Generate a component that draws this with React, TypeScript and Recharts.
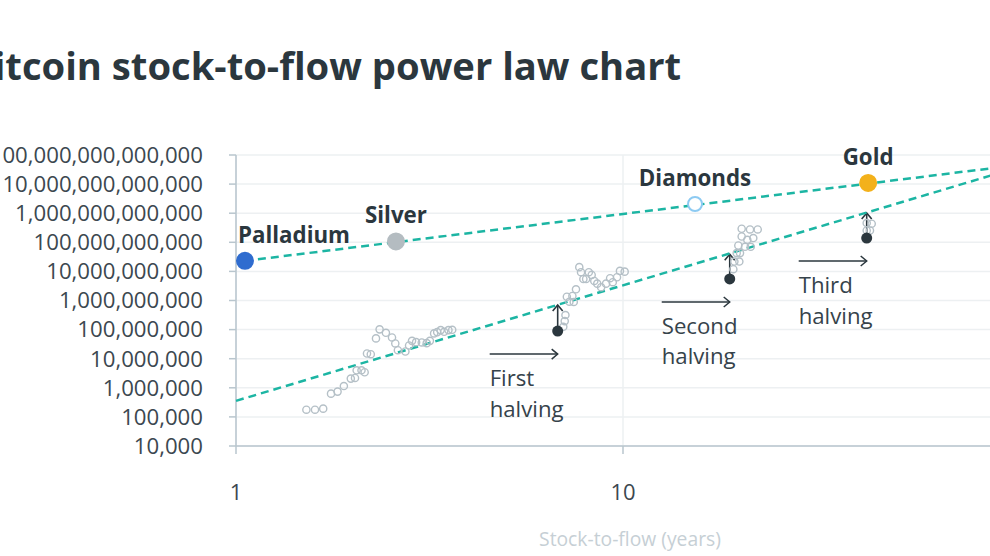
import { ScatterChart, Scatter, XAxis, YAxis, CartesianGrid, ReferenceLine } from 'recharts';

const FONT = "'Open Sans', sans-serif";

// commodities (stock-to-flow in years, market value in USD)
const commodityNames = ['Palladium', 'Silver', 'Diamonds', 'Gold'];
const commoditySF = [1.055, 2.59, 15.35, 43.0];
const commodityValue = [2.3e10, 1.07e11, 2.07e12, 1.1e13];

// fitted power law lines (end points)
const commodityFitSF = [1.055, 100];
const commodityFitValue = [2.3e10, 4.2e13];
const btcFitSF = [1, 100];
const btcFitValue = [3.56e5, 3.1e13];

// bitcoin monthly points
const btcSF = [
  1.52, 1.6, 1.68, 1.76, 1.83, 1.9, 1.98, 2.03, 2.05, 2.11, 2.15, 2.18, 2.23, 2.3, 2.35, 2.44,
  2.53, 2.58, 2.62, 2.74, 2.8, 2.85, 2.92, 3.02, 3.11, 3.17, 3.25, 3.31, 3.38, 3.45, 3.54, 3.62,
  7.01, 7.07, 7.1, 7.16, 7.27, 7.46, 7.4, 7.56, 7.71, 7.79, 7.9, 8.03, 8.16, 8.3, 8.43, 8.58,
  8.78, 9.04, 9.26, 9.41, 9.65, 9.82, 10.1,
  19.28, 19.4, 19.98, 19.67, 20.06, 19.86, 20.67, 21.38, 20.26, 20.95, 21.71, 20.26, 21.29, 22.29,
  42.63, 43.92, 42.63, 43.47,
];
const btcValue = [
  1.77e5, 1.77e5, 1.92e5, 6.3e5, 7.4e5, 1.15e6, 2.07e6, 2.18e6, 4.0e6, 4.0e6, 3.42e6, 1.51e7, 1.43e7, 4.98e7, 1.02e8, 7.76e7,
  5.38e7, 3.34e7, 1.96e7, 1.77e7, 2.85e7, 4.11e7, 3.71e7, 3.62e7, 3.42e7, 4.11e7, 7.4e7, 8.2e7, 9.62e7, 8.4e7, 9.62e7, 9.84e7,
  1.25e8, 1.96e8, 3.16e8, 1.35e9, 9.1e8, 8.9e8, 1.43e9, 2.43e9, 1.4e10, 9.4e9, 5.5e9, 5.5e9, 9.4e9, 7.57e9, 4.7e9, 3.79e9,
  2.85e9, 3.79e9, 5.83e9, 4.25e9, 6.3e9, 1.04e10, 9.8e9,
  1.19e10, 2.18e10, 2.18e10, 4.25e10, 4.25e10, 7.76e10, 7.0e10, 7.0e10, 1.58e11, 1.22e11, 1.4e11, 2.92e11, 2.76e11, 2.76e11,
  4.59e11, 4.35e11, 2.55e11, 2.55e11,
];

// halvings: value at halving and value on the fitted line
const halvingNames = ['First', 'Second', 'Third'];
const halvingSF = [6.78, 18.87, 42.63];
const halvingValue = [8.9e7, 5.5e9, 1.4e11];
const halvingFitValue = [7.0e8, 3.9e10, 1.02e12];

const xTicks = [1, 10];
const yTicks = [1e4, 1e5, 1e6, 1e7, 1e8, 1e9, 1e10, 1e11, 1e12, 1e13, 1e14];

const commodityStyle: Record<string, { fill: string; stroke: string }> = {
  Palladium: { fill: '#2f6ccf', stroke: '#2f6ccf' },
  Silver: { fill: '#b4bcc1', stroke: '#b4bcc1' },
  Diamonds: { fill: '#ffffff', stroke: '#8ccaf2' },
  Gold: { fill: '#f3b11b', stroke: '#f3b11b' },
};

const TEAL = '#1cb5a3';
const DARK = '#2b373e';

const commodities = commodityNames.map((name, i) => ({ name, sf: commoditySF[i], value: commodityValue[i] }));
const commodityFit = commodityFitSF.map((sf, i) => ({ sf, value: commodityFitValue[i] }));
const btcFit = btcFitSF.map((sf, i) => ({ sf, value: btcFitValue[i] }));
const btc = btcSF.map((sf, i) => ({ sf, value: btcValue[i] }));
const halvings = halvingNames.map((name, i) => ({ name, sf: halvingSF[i], value: halvingValue[i] }));

function CommodityDot(props: any) {
  const { cx, cy, payload } = props;
  const st = commodityStyle[payload.name];
  const left = payload.name === 'Palladium';
  return (
    <g>
      <circle cx={cx} cy={cy} r={st.fill === '#ffffff' ? 7 : 8} fill={st.fill} stroke={st.stroke} strokeWidth={2} />
      <text
        x={left ? cx - 7 : cx}
        y={cy - 18}
        textAnchor={left ? 'start' : 'middle'}
        fontFamily={FONT}
        fontWeight={700}
        fontSize={22.3}
        fill={DARK}
      >
        {payload.name}
      </text>
    </g>
  );
}

function BtcDot(props: any) {
  const { cx, cy } = props;
  return <circle cx={cx} cy={cy} r={3.6} fill="none" stroke="#b5c0c7" strokeWidth={1.4} />;
}

function HalvingDot(props: any) {
  const { cx, cy, payload } = props;
  const ay = cy + 23;
  return (
    <g>
      <circle cx={cx} cy={cy} r={5.5} fill={DARK} />
      <line x1={cx - 68} y1={ay} x2={cx} y2={ay} stroke={DARK} strokeWidth={1.5} />
      <polyline points={`${cx - 6},${ay - 5} ${cx},${ay} ${cx - 6},${ay + 5}`} fill="none" stroke={DARK} strokeWidth={1.5} />
      <text x={cx - 68} y={cy + 55} fontFamily={FONT} fontSize={22.2} fill="#36434b">
        {payload.name}
      </text>
      <text x={cx - 68} y={cy + 85.5} fontFamily={FONT} fontSize={22.2} fill="#36434b">
        halving
      </text>
    </g>
  );
}

function UpArrow(props: any) {
  const { x1, y1, x2, y2 } = props;
  const top = Math.min(y1, y2);
  return (
    <g>
      <line x1={x1} y1={y1} x2={x2} y2={y2} stroke={DARK} strokeWidth={1.6} />
      <polyline points={`${x1 - 5},${top + 6} ${x1},${top} ${x1 + 5},${top + 6}`} fill="none" stroke={DARK} strokeWidth={1.6} />
    </g>
  );
}

const fmt = (v: number) => Math.round(v).toLocaleString('en-US');

export default function App() {
  return (
    <div
      style={{
        position: 'fixed',
        left: 0,
        top: 0,
        width: 990,
        height: 556,
        overflow: 'hidden',
        background: '#ffffff',
        fontFamily: FONT,
      }}
    >
      <div
        style={{
          position: 'absolute',
          left: -32,
          top: 44,
          fontSize: 38.2,
          lineHeight: '42px',
          fontWeight: 700,
          color: DARK,
          whiteSpace: 'nowrap',
        }}
      >
        Bitcoin stock-to-flow power law chart
      </div>
      <div style={{ position: 'absolute', left: -100, top: 0 }}>
        <ScatterChart width={1200} height={556} margin={{ top: 155, right: 90, bottom: 50, left: 0 }}>
          <CartesianGrid stroke="#edf0f2" strokeWidth={1.5} />
          <XAxis
            dataKey="sf"
            type="number"
            scale="log"
            domain={[1, 100]}
            ticks={xTicks}
            interval={0}
            height={60}
            stroke="#b9c6ce"
            strokeWidth={1.5}
            tickSize={8}
            tickMargin={30}
            tick={{ fill: '#3c4850', fontSize: 22, fontFamily: FONT }}
            label={{
              value: 'Stock-to-flow (years)',
              position: 'bottom',
              offset: 26,
              dx: 7,
              fill: '#c6cfd5',
              fontSize: 19.3,
              fontFamily: FONT,
            }}
          />
          <YAxis
            dataKey="value"
            type="number"
            scale="log"
            domain={[1e4, 1e14]}
            ticks={yTicks}
            interval={0}
            width={336}
            stroke="#b9c6ce"
            strokeWidth={1.5}
            tickSize={7}
            tickMargin={26}
            tickFormatter={fmt}
            tick={{ fill: '#3c4850', fontSize: 22.2, fontFamily: FONT }}
          />
          <Scatter
            data={commodityFit}
            line={{ stroke: TEAL, strokeWidth: 2.5, strokeDasharray: '8 5' }}
            shape={() => <g />}
            isAnimationActive={false}
          />
          <Scatter
            data={btcFit}
            line={{ stroke: TEAL, strokeWidth: 2.5, strokeDasharray: '8 5' }}
            shape={() => <g />}
            isAnimationActive={false}
          />
          <Scatter data={btc} shape={BtcDot} isAnimationActive={false} />
          {halvings.map((h, i) => (
            <ReferenceLine
              key={h.name}
              segment={[
                { x: h.sf, y: h.value },
                { x: h.sf, y: halvingFitValue[i] },
              ]}
              shape={UpArrow}
            />
          ))}
          <Scatter data={halvings} shape={HalvingDot} isAnimationActive={false} />
          <Scatter data={commodities} shape={CommodityDot} isAnimationActive={false} />
        </ScatterChart>
      </div>
    </div>
  );
}
